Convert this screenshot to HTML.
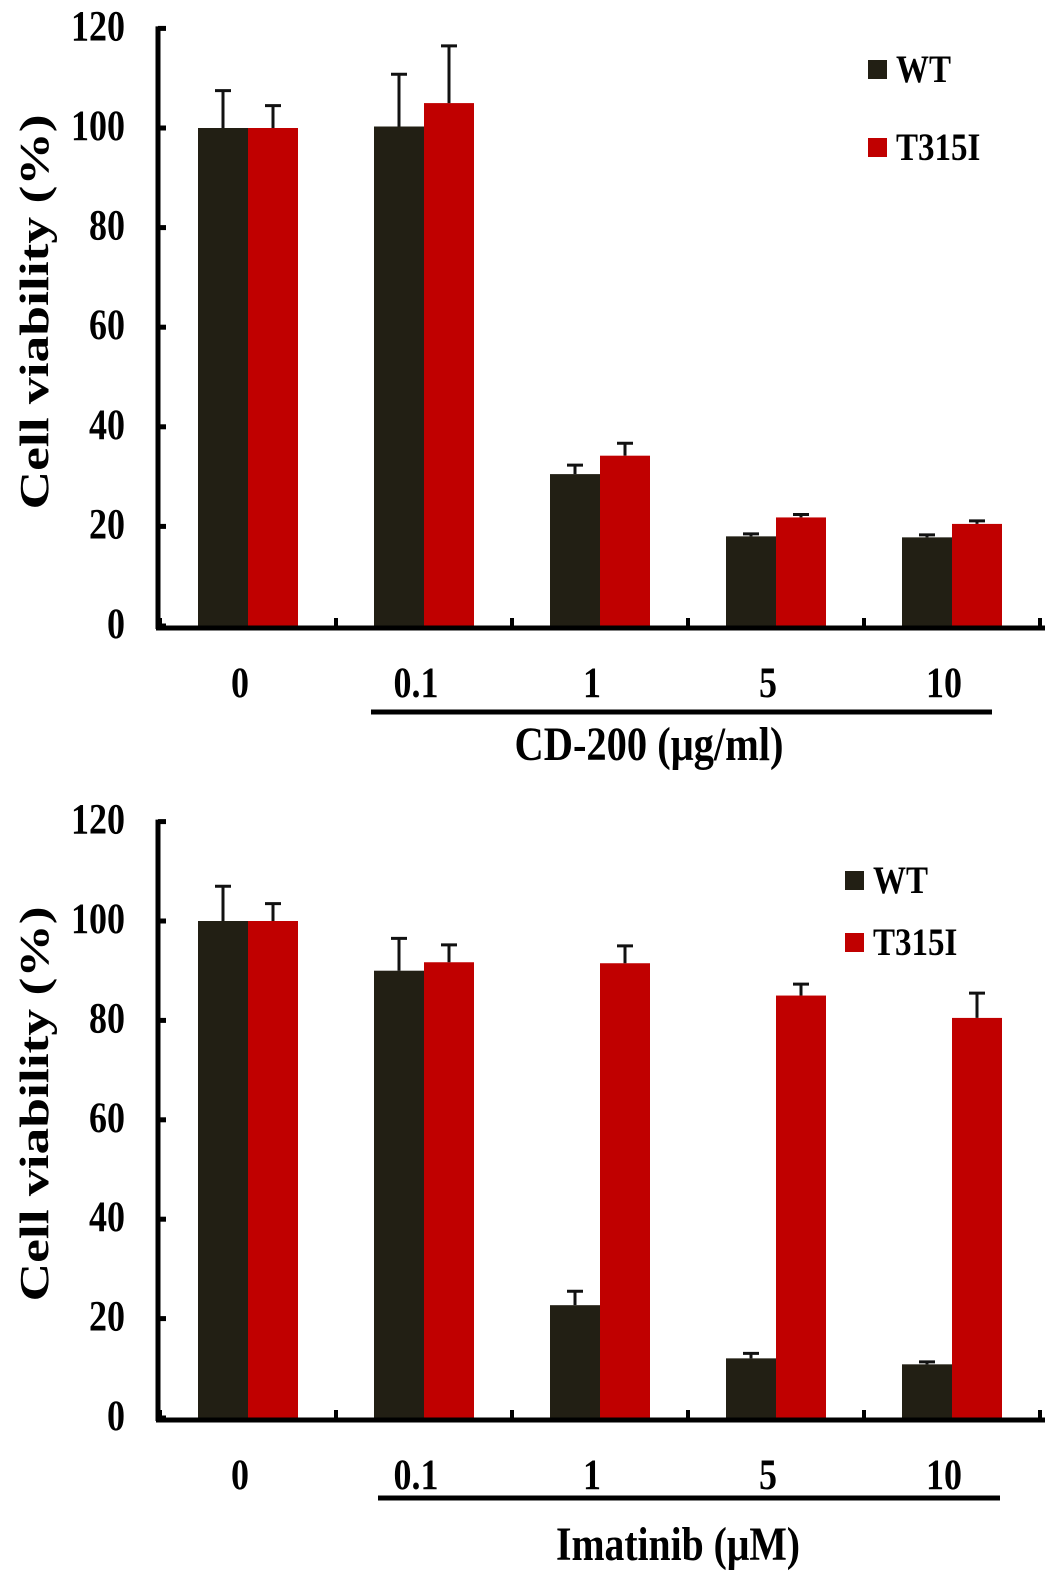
<!DOCTYPE html>
<html><head><meta charset="utf-8"><style>
html,body{margin:0;padding:0;background:#fff}
svg{display:block}
text{font-family:"Liberation Serif",serif;font-weight:bold;fill:#000}
</style></head><body>
<svg id="chart" width="1063" height="1576" viewBox="0 0 1063 1576" xmlns="http://www.w3.org/2000/svg"></svg>
<script>
const categories = ["0","0.1","1","5","10"];
const yTicks = [0,20,40,60,80,100,120];
const topWT = [100,100.3,30.5,18,17.8];
const topWTErr = [7.5,10.5,1.8,0.5,0.5];
const topMut = [100,105,34.2,21.8,20.5];
const topMutErr = [4.5,11.5,2.5,0.6,0.6];
const botWT = [100,90,22.7,12,10.8];
const botWTErr = [7,6.5,2.8,1,0.5];
const botMut = [100,91.7,91.5,85,80.5];
const botMutErr = [3.5,3.5,3.5,2.3,5];

const NS="http://www.w3.org/2000/svg";
const svg=document.getElementById('chart');
function mk(tag,attrs,parent){const e=document.createElementNS(NS,tag);for(const k in attrs)e.setAttribute(k,attrs[k]);(parent||svg).appendChild(e);return e;}
function txt(g,x,y,s,size,anchor,sy,len){
  const a={x:0,y:0,'text-anchor':anchor,'font-size':size,transform:`translate(${x},${y}) scale(1,${sy})`};
  if(len){a.textLength=len;a.lengthAdjust='spacingAndGlyphs';}
  const t=mk('text',a,g);t.textContent=s;return t;
}

function drawPanel(p){
  const g=mk('g',{});
  
  
  const y0=p.y0, pxPer=p.pxPer;
  const yS=v=>y0-v*pxPer;
  const xS=i=>248+i*176;
  [[p.wt,p.wtErr,'#221f14',-50,'wt'],[p.mut,p.mutErr,'#c00000',0,'t315i']].forEach(([vals,errs,col,off,nm])=>{
    vals.forEach((v,i)=>{
      const x=xS(i)+off;
      const r=mk('rect',{x:x,y:yS(v),width:50,height:y0-yS(v),fill:col},g);
      
      
      const cx=x+25, top=yS(v+errs[i]);
      const l=mk('path',{d:`M${cx},${yS(v)}V${top}M${cx-8},${top}H${cx+8}`,stroke:'#111','stroke-width':3,fill:'none'},g);
      
      
    });
  });
  const ax=mk('path',{d:`M158,${yS(120)-2}V${y0+3}M156,${y0+2}H1045`,stroke:'#000','stroke-width':5,fill:'none'},g);
  
  
  yTicks.forEach(t=>{
    const tk=mk('path',{d:`M158,${yS(t)}H166`,stroke:'#000','stroke-width':5},g);
    
    
    const tl=txt(g,125,yS(t)+12,String(t),36,'end',1.2);
    
    
  });
  for(let i=0;i<=categories.length;i++){
    const x=160+i*176;
    const tk=mk('path',{d:`M${x},${y0}V${y0-8}`,stroke:'#000','stroke-width':4},g);
    
    
  }
  categories.forEach((c,i)=>{
    const tl=txt(g,xS(i)-8,y0+71,c,36,'middle',1.2);
    
    
  });
  const ul=mk('path',{d:`M${p.ulx1},${y0+p.ulOff}H${p.ulx2}`,stroke:'#000','stroke-width':5},g);
  
  
  const xt=txt(g,p.titleX,y0+p.titleOff,p.title,38,'middle',1.25,p.titleLen);
  
  
  const yt=mk('text',{x:0,y:0,transform:`translate(48,${y0-314}) rotate(-90)`,'text-anchor':'middle','font-size':41,textLength:395,lengthAdjust:'spacingAndGlyphs'},g);
  yt.textContent='Cell viability (%)';
  
  
  [['WT','#221f14',0],['T315I','#c00000',1]].forEach(([n,c,k])=>{
    const ly=p.legY+k*p.legGap;
    const sq=mk('rect',{x:p.legX,y:ly,width:19,height:19,fill:c},g);
    
    
    const lt=txt(g,p.legX+28,ly+22,n,33,'start',1.2);
    
    
  });
}
drawPanel({name:'cd200-panel',y0:626,pxPer:4.98,wt:topWT,wtErr:topWTErr,mut:topMut,mutErr:topMutErr,title:'CD-200  (μg/ml)',titleX:649,titleLen:269,titleOff:134,ulOff:86,ulx1:371,ulx2:992,legX:868,legY:60,legGap:78});
drawPanel({name:'imatinib-panel',y0:1418,pxPer:4.97,wt:botWT,wtErr:botWTErr,mut:botMut,mutErr:botMutErr,title:'Imatinib (μM)',titleX:678,titleLen:244,titleOff:142,ulOff:80,ulx1:378,ulx2:1000,legX:845,legY:871,legGap:62});
</script>
</body></html>
